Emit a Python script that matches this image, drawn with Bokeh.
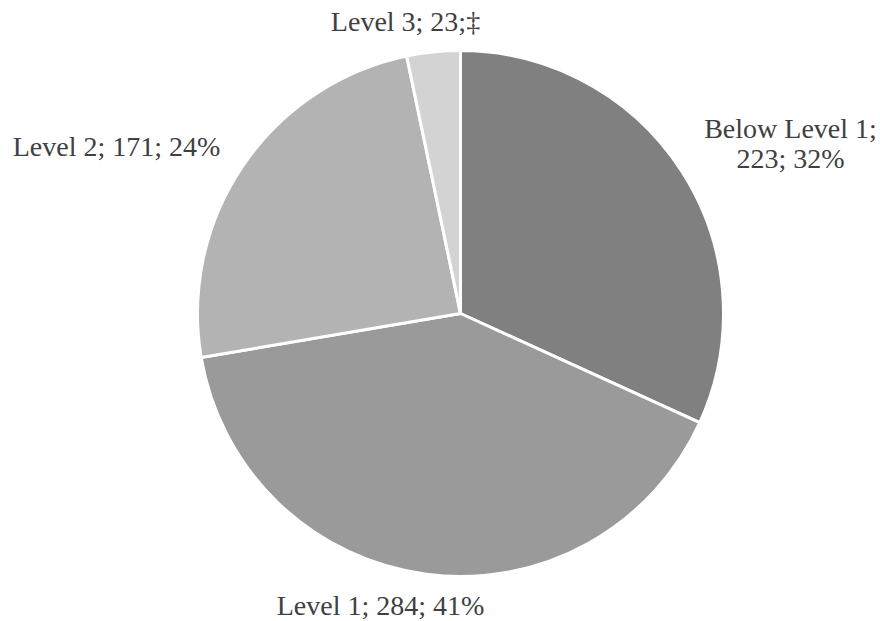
import numpy as np
from bokeh.plotting import figure
from bokeh.models import ColumnDataSource
from bokeh.core.properties import value
from bokeh.embed import file_html
from bokeh.resources import INLINE

categories = ["Below Level 1", "Level 1", "Level 2", "Level 3"]
counts = [223, 284, 171, 23]
colors = ["#808080", "#9a9a9a", "#b3b3b3", "#d3d3d3"]

W, H = 880, 621
cx, cy, R = 460, 621 - 313, 263

vals = np.array(counts, dtype=float)
frac = vals / vals.sum()
cum = np.concatenate([[0], np.cumsum(frac)])
start = np.pi / 2 - cum[1:] * 2 * np.pi
end = np.pi / 2 - cum[:-1] * 2 * np.pi

src = ColumnDataSource(dict(start=start, end=end, color=colors))

p = figure(width=W, height=H, x_range=(0, W), y_range=(0, H),
           output_backend="svg", toolbar_location=None, min_border=0)
p.axis.visible = False
p.grid.visible = False
p.outline_line_color = None
p.background_fill_color = "white"

p.wedge(x=cx, y=cy, radius=R, start_angle="start", end_angle="end",
        fill_color="color", line_color="white", line_width=3, source=src)

pcts = [int(np.floor(f * 100 + 0.5)) for f in frac]
labels = [
    f"{categories[0]};\n{counts[0]}; {pcts[0]}%",
    f"{categories[1]}; {counts[1]}; {pcts[1]}%",
    f"{categories[2]}; {counts[2]}; {pcts[2]}%",
    f"{categories[3]}; {counts[3]};\u2021",
]
lx = [790, 380, 116, 405]
ly = [H - 143, H - 605, H - 146, H - 21]

p.text(x=lx, y=ly, text=labels, text_font=value("Liberation Serif"),
       text_font_size="28px", text_color="#404040", text_align="center",
       text_baseline="middle", text_line_height=0.98)

open("out.html", "w").write(file_html(p, INLINE))
